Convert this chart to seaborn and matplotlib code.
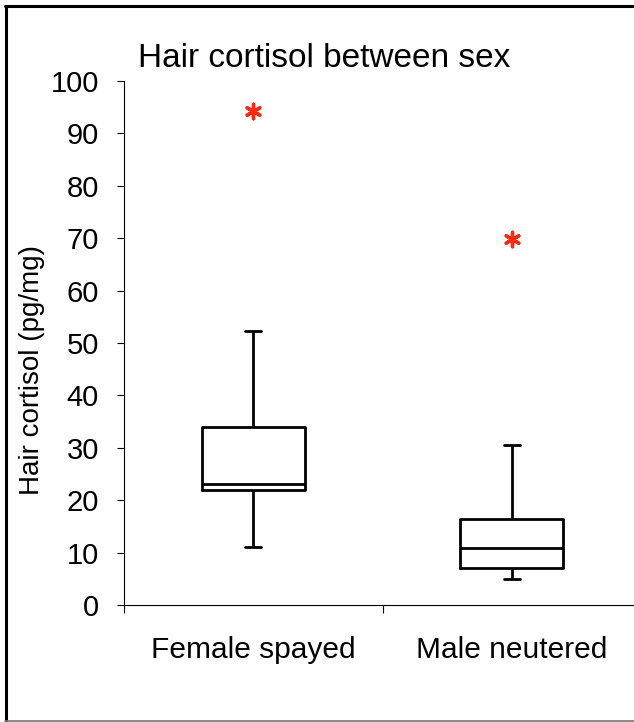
import matplotlib
matplotlib.use("Agg")
import matplotlib.pyplot as plt
from matplotlib.lines import Line2D
import seaborn as sns
import pandas as pd

# ---- data ----
categories = ["Female spayed", "Male neutered"]
whisker_low = [11.0, 5.0]
q1 = [22.0, 7.0]
median = [23.0, 10.8]
q3 = [34.0, 16.4]
whisker_high = [52.2, 30.6]
outliers = [94.3, 69.9]
y_ticks = [0, 10, 20, 30, 40, 50, 60, 70, 80, 90, 100]

# five-number summaries -> long table (n=5 gives exact quartiles)
rows = []
for i, c in enumerate(categories):
    for v in (whisker_low[i], q1[i], median[i], q3[i], whisker_high[i]):
        rows.append({"group": c, "value": v})
df = pd.DataFrame(rows)
df_out = pd.DataFrame({"group": categories, "value": outliers})

sns.set_style("white")
plt.rcParams["font.family"] = ["Liberation Sans", "DejaVu Sans"]

W, H = 634, 722
fig = plt.figure(figsize=(W / 100, H / 100), dpi=100)
ax = fig.add_axes([124 / W, (H - 605) / H, (641 - 124) / W, (605 - 81) / H])

sns.boxplot(data=df, x="group", y="value", order=categories, whis=(0, 100),
            width=0.4, fill=False, color="black", linecolor="black",
            linewidth=2.0, fliersize=0, capwidths=0.062, ax=ax)

sns.scatterplot(data=df_out, x="group", y="value", marker=(6, 2, 0), s=110,
                color="#ff2a10", edgecolor="#ff2a10", linewidth=2.4, ax=ax,
                zorder=5)

ax.set_xlim(-0.5, 1.5)
ax.set_ylim(0, 100)
ax.set_yticks(y_ticks)
ax.set_yticklabels([str(t) for t in y_ticks])

# category boundaries as ticks, labels at category centres
ax.set_xticks([-0.5, 0.5, 1.5])
ax.set_xticklabels(["", "", ""])
ax.set_xticks([0, 1], minor=True)
ax.set_xticklabels(categories, minor=True)
ax.tick_params(axis="x", which="major", direction="out", length=6, width=0.8,
               color="black", bottom=True)
ax.tick_params(axis="x", which="minor", length=0, pad=22, labelsize=21.5,
               labelcolor="black")
ax.tick_params(axis="y", direction="out", length=5, width=0.8, color="black",
               left=True, pad=13, labelsize=21, labelcolor="black")

for s in ("top", "right"):
    ax.spines[s].set_visible(False)
for s in ("left", "bottom"):
    ax.spines[s].set_color("black")
    ax.spines[s].set_linewidth(0.8)

ax.set_xlabel("")
ax.set_ylabel("Hair cortisol (pg/mg)", fontsize=20, color="black", labelpad=4,
              y=(605 - 370) / (605 - 81))
ax.set_title("Hair cortisol between sex", fontsize=24, loc="left",
             x=(138 - 124) / (641 - 124), pad=10, color="black")

# outer frame of the figure
fig.add_artist(Line2D([6 / W, 6 / W], [1 - 6 / H, 1 - 720.5 / H],
                      transform=fig.transFigure, color="black", lw=2.2))
fig.add_artist(Line2D([5 / W, 1.0], [1 - 6 / H, 1 - 6 / H],
                      transform=fig.transFigure, color="black", lw=2.2))
fig.add_artist(Line2D([5 / W, 1.0], [1 - 720.5 / H, 1 - 720.5 / H],
                      transform=fig.transFigure, color="#777777", lw=1.2))

fig.savefig("out.png", dpi=100)
